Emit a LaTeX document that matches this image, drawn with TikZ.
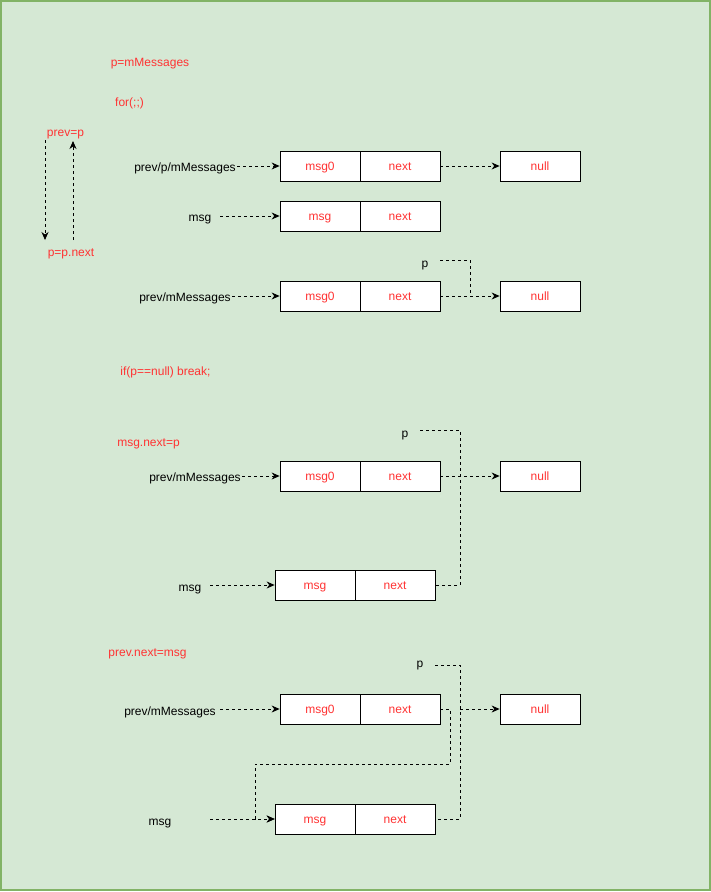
\documentclass[tikz,border=0pt]{standalone}
\usepackage{fontspec}
\setmainfont{Liberation Sans}
\usetikzlibrary{arrows.meta}
\definecolor{bgfill}{HTML}{D5E8D4}
\definecolor{bgline}{HTML}{82B366}
\definecolor{txtred}{HTML}{FF3333}
\begin{document}
\begin{tikzpicture}[x=1pt,y=-1pt,
  cell/.style={draw=black,line width=0.8pt,fill=white,minimum width=80pt,minimum height=30pt,inner sep=0pt,text=txtred,font=\fontsize{12}{14}\selectfont,text height=10pt,text depth=2pt},
  lbl/.style={inner sep=0pt,font=\fontsize{12}{14}\selectfont,text=black,text height=10pt,text depth=2pt},
  code/.style={inner sep=0pt,font=\fontsize{12}{14}\selectfont,text=txtred,text height=10pt,text depth=2pt},
  dl/.style={draw=black,line width=0.8pt,dash pattern=on 3pt off 3pt},
  da/.style={dl,-{Stealth[length=8pt,width=7pt]}}]
\useasboundingbox (0,0) rectangle (711,892);
\draw[fill=bgfill,draw=bgline,line width=1.5pt] (1,1) rectangle (710,890);

% section 1
\node[code] (t1) at (150,62) {p=mMessages};
\node[code] (t2) at (129.5,102) {for(;;)};
\node[code] (t3) at (65.5,132) {prev=p};
\node[code] (t4) at (71,252) {p=p.next};
\coordinate (la1) at (45,140);
\coordinate (la2) at (45,240);
\coordinate (lb1) at (73,240);
\coordinate (lb2) at (73,141);
\draw[da] (la1) -- (la2);
\draw[da] (lb1) -- (lb2);

\node[lbl] (r1l) at (185,167) {prev/p/mMessages};
\coordinate (r1s) at (237,166);
\node[cell] (r1a) at (320,166) {msg0};
\node[cell] (r1b) at (400,166) {next};
\node[cell] (r1n) at (540,166) {null};
\draw[da] (r1s) -- (r1a.west);
\draw[da] (r1b.east) -- (r1n.west);

\node[lbl] (r2l) at (200,217) {msg};
\coordinate (r2s) at (220,216);
\node[cell] (r2a) at (320,216) {msg};
\node[cell] (r2b) at (400,216) {next};
\draw[da] (r2s) -- (r2a.west);

\node[lbl] (r3p) at (425,263) {p};
\coordinate (r3ps) at (440,260);
\coordinate (r3pc) at (470,260);
\coordinate (r3pj) at (470,296);
\node[lbl] (r3l) at (185,297) {prev/mMessages};
\coordinate (r3s) at (232,296);
\node[cell] (r3a) at (320,296) {msg0};
\node[cell] (r3b) at (400,296) {next};
\node[cell] (r3n) at (540,296) {null};
\draw[da] (r3s) -- (r3a.west);
\draw[da] (r3b.east) -- (r3n.west);
\draw[dl] (r3ps) -- (r3pc) -- (r3pj);

% section 2
\node[code] (t5) at (165.5,371) {if(p==null) break;};
\node[code] (t6) at (148.5,442) {msg.next=p};
\node[lbl] (s2p) at (405,433) {p};
\coordinate (s2ps) at (420,430);
\coordinate (s2pc) at (460,430);
\coordinate (s2pd) at (460,585);
\node[lbl] (s2l) at (195,477) {prev/mMessages};
\coordinate (s2s) at (242,476);
\node[cell] (s2a) at (320,476) {msg0};
\node[cell] (s2b) at (400,476) {next};
\node[cell] (s2n) at (540,476) {null};
\draw[da] (s2s) -- (s2a.west);
\draw[da] (s2b.east) -- (s2n.west);
\node[lbl] (s2ml) at (190,587) {msg};
\coordinate (s2ms) at (210,585);
\node[cell] (s2ma) at (315,585) {msg};
\node[cell] (s2mb) at (395,585) {next};
\draw[da] (s2ms) -- (s2ma.west);
\draw[dl] (s2ps) -- (s2pc) -- (s2pd) -- (s2mb.east);

% section 3
\node[code] (t7) at (147.5,652) {prev.next=msg};
\node[lbl] (s3p) at (420,663) {p};
\coordinate (s3ps) at (435,665);
\coordinate (s3pc) at (460,665);
\coordinate (s3pd) at (460,819);
\coordinate (s3pn) at (460,709);
\node[lbl] (s3l) at (170,711) {prev/mMessages};
\coordinate (s3s) at (220,709);
\node[cell] (s3a) at (320,709) {msg0};
\node[cell] (s3b) at (400,709) {next};
\node[cell] (s3n) at (540,709) {null};
\draw[da] (s3s) -- (s3a.west);
\draw[da] (s3pn) -- (s3n.west);
\node[lbl] (s3ml) at (160,821) {msg};
\coordinate (s3ms) at (210,819);
\node[cell] (s3ma) at (315,819) {msg};
\node[cell] (s3mb) at (395,819) {next};
\draw[da] (s3ms) -- (s3ma.west);
\draw[dl] (s3ps) -- (s3pc) -- (s3pd) -- (s3mb.east);
\coordinate (s3c1) at (450,709);
\coordinate (s3c2) at (450,764);
\coordinate (s3c3) at (255,764);
\coordinate (s3c4) at (255,819);
\draw[da] (s3b.east) -- (s3c1) -- (s3c2) -- (s3c3) -- (s3c4) -- (s3ma.west);
\end{tikzpicture}
\end{document}
